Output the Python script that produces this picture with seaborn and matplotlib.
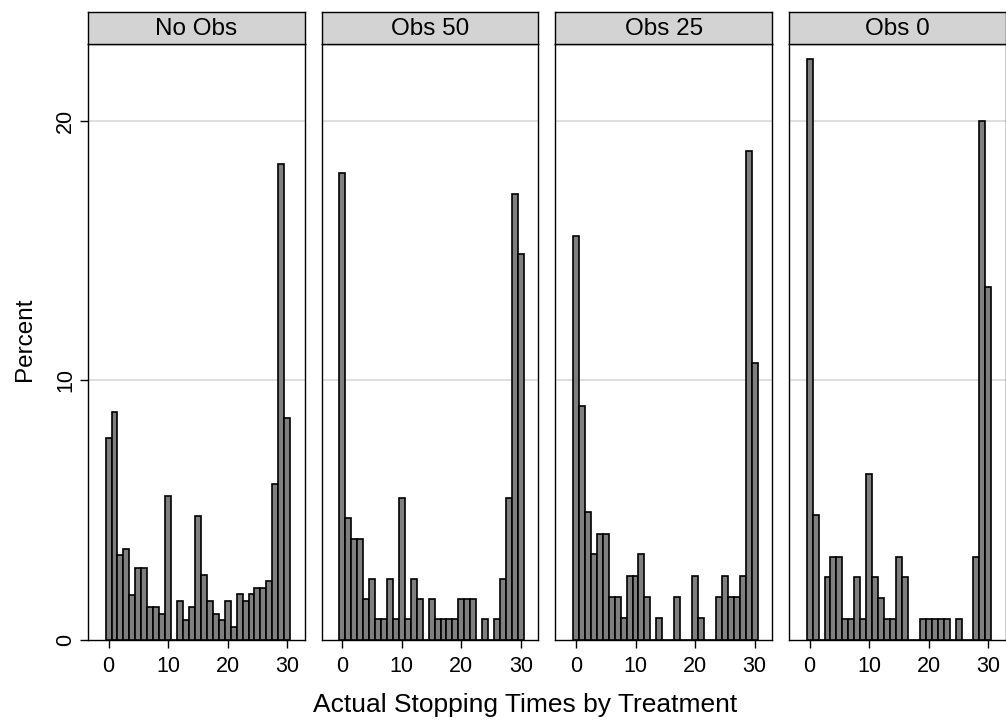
import pandas as pd
import matplotlib.pyplot as plt
import seaborn as sns

# Percent of subjects stopping at each time
stop_times = list(range(31))
panels = ["No Obs", "Obs 50", "Obs 25", "Obs 0"]

no_obs = [7.78, 8.77, 3.26, 3.49, 1.73, 2.75, 2.75, 1.25, 1.25, 0.99, 5.52, 0, 1.49, 0.75, 1.25, 4.77,
          2.50, 1.49, 0.99, 0.75, 1.49, 0.49, 1.75, 1.49, 1.75, 1.99, 1.99, 2.25, 6.01, 18.32, 8.53]
obs_50 = [17.97, 4.69, 3.89, 3.89, 1.55, 2.33, 0.78, 0.78, 2.33, 0.78, 5.46, 0.78, 2.33, 1.55, 0, 1.55,
          0.78, 0.78, 0.78, 0.78, 1.55, 1.55, 1.55, 0, 0.78, 0, 0.78, 2.33, 5.46, 17.17, 14.84]
obs_25 = [15.56, 9.00, 4.91, 3.28, 4.08, 4.08, 1.63, 1.63, 0.81, 2.45, 2.45, 3.28, 1.63, 0, 0.81, 0,
          0, 1.63, 0, 0, 2.45, 0.81, 0, 0, 1.63, 2.45, 1.63, 1.63, 2.45, 18.84, 10.64]
obs_0 = [22.37, 4.79, 0, 2.39, 3.19, 3.19, 0.80, 0.80, 2.39, 0.80, 6.38, 2.39, 1.59, 0.80, 0.80, 3.19,
         2.39, 0, 0, 0.80, 0.80, 0.80, 0.80, 0.80, 0, 0.80, 0, 0, 3.19, 19.99, 13.60]

rows = []
for name, vals in zip(panels, [no_obs, obs_50, obs_25, obs_0]):
    for t, p in zip(stop_times, vals):
        if p > 0:
            rows.append({"treatment": name, "time": t, "percent": p})
df = pd.DataFrame(rows)

sns.set_style("white")
plt.rcParams["font.family"] = ["Liberation Sans", "DejaVu Sans"]
plt.rcParams.update({"text.color": "black", "xtick.color": "black",
                     "ytick.color": "black", "axes.labelcolor": "black"})

W, H = 1006, 723
fig = plt.figure(figsize=(W / 100, H / 100), dpi=100)

left0, pw, step = 88, 216.5, 233.7
top, bottom, head = 44, 639.5, 32

for i, name in enumerate(panels):
    x0 = left0 + i * step
    ax = fig.add_axes([x0 / W, (H - bottom) / H, pw / W, (bottom - top) / H])
    sub = df[df["treatment"] == name]
    sns.histplot(data=sub, x="time", weights="percent", discrete=True, stat="count",
                 color="#7f7f7f", edgecolor="black", linewidth=1.2, alpha=1, ax=ax, zorder=3)
    ax.set_xlim(-3.45, 32.9)
    ax.set_ylim(0, 22.95)
    for g in [10, 20]:
        ax.axhline(g, color="#dcdcdc", lw=1.3, zorder=1)
    ax.set_xticks([0, 10, 20, 30])
    ax.tick_params(axis="x", direction="out", length=6, width=1, color="black",
                   labelcolor="black", labelsize=15.5, pad=6, bottom=True)
    ax.set_xlabel("")
    ax.set_ylabel("")
    if i == 0:
        ax.set_yticks([0, 10, 20])
        ax.tick_params(axis="y", direction="out", length=6, width=1, color="black",
                       labelcolor="black", labelsize=15.5, pad=2.5, left=True)
        for lab in ax.get_yticklabels():
            lab.set_rotation(90)
            lab.set_va("center")
    else:
        ax.set_yticks([])
    for s in ax.spines.values():
        s.set_color("black")
        s.set_linewidth(1)

    # gray strip header
    hx = fig.add_axes([x0 / W, (H - top) / H, pw / W, head / H])
    hx.set_facecolor("#d3d3d3")
    hx.set_xticks([])
    hx.set_yticks([])
    for s in hx.spines.values():
        s.set_color("black")
        s.set_linewidth(1)
    hx.text(0.5, 0.46, name, ha="center", va="center", fontsize=17.5, color="black",
            transform=hx.transAxes)

fig.text(25 / W, 1 - 339 / H, "Percent", rotation=90, ha="center", va="center",
         fontsize=17.5, color="black")
fig.text(525 / W, 1 - 705 / H, "Actual Stopping Times by Treatment", ha="center", va="center",
         fontsize=19, color="black")

plt.savefig("out.png", dpi=100)
plt.close()
